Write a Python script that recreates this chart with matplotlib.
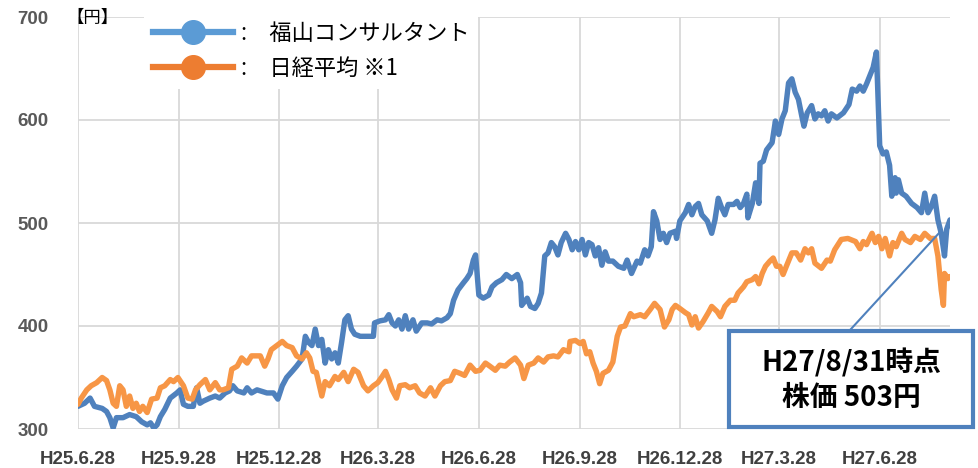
import matplotlib
matplotlib.use('Agg')
import matplotlib.pyplot as plt
from matplotlib.lines import Line2D
from matplotlib.patches import Rectangle
from matplotlib.font_manager import FontProperties
import pandas as pd

start_date = '2013-06-28'
end_date = '2015-08-31'

blue_days = [0, 6, 11, 15, 22, 26, 29, 32, 35, 41, 47, 53, 58, 63, 66, 69, 72, 75, 79, 84,
             90, 93, 96, 100, 105, 108, 111, 114, 120, 125, 129, 134, 138, 141, 145, 151, 154, 158, 163,
             166, 172, 178, 182, 186, 190, 195, 199, 204, 207, 210, 213, 216, 219, 222, 225, 228, 231, 234, 237,
             240, 243, 246, 249, 252, 257, 263, 269, 270, 275, 280, 283, 286, 289, 292, 295, 298, 301, 305, 308,
             313, 318, 322, 327, 331, 336,
             339, 342, 346, 351, 354, 357, 360, 362, 365, 369, 374, 377, 381, 386, 390, 395, 400, 403, 404, 409,
             412, 416, 419, 422, 425, 428, 431, 434, 437, 440, 444, 447, 450, 453, 456, 459, 462, 465, 468, 471,
             474, 477, 480, 483, 487, 492, 497, 500, 504, 509,
             512, 516, 519, 522, 524, 527, 530, 533, 536, 539, 544, 545, 548, 553, 556, 559, 562, 565, 568, 573,
             577, 580, 583, 586, 589, 592, 597, 600, 603, 606, 609, 610, 614, 617, 620, 621, 624, 627, 632, 635,
             638, 641, 644, 647, 650, 653, 656, 659, 661, 664, 668, 671, 674, 677, 680, 683,
             686, 691, 697, 702, 705, 709, 712, 715, 718, 721, 724, 727, 729, 730, 733, 736, 739, 741, 744, 745,
             747, 750, 754, 759, 764, 768, 771, 774, 777, 780, 783, 786, 789, 791, 794]
blue_vals = [322, 325, 330, 322, 320, 317, 311, 301, 311, 311, 314, 312, 307, 304, 306, 301, 304, 312, 319, 330,
             335, 338, 324, 322, 322, 340, 325, 327, 330, 332, 330, 335, 337, 342, 337, 335, 340, 335, 338,
             337, 335, 335, 329, 342, 350, 356, 361, 368, 390, 384, 381, 397, 381, 387, 364, 377, 368, 374, 364,
             384, 406, 410, 397, 392, 390, 390, 390, 403, 405, 406, 411, 403, 400, 406, 397, 410, 397, 406, 395,
             403, 403, 402, 406, 405, 408,
             412, 425, 435, 442, 446, 451, 464, 469, 430, 427, 430, 438, 442, 445, 450, 446, 450, 442, 420, 427,
             419, 417, 422, 432, 468, 471, 481, 477, 469, 481, 490, 484, 474, 482, 474, 484, 469, 481, 479, 468,
             476, 459, 472, 463, 463, 458, 456, 464, 451, 463,
             461, 474, 468, 477, 511, 502, 484, 490, 481, 490, 492, 485, 502, 510, 518, 508, 516, 519, 508, 502,
             490, 503, 524, 515, 508, 518, 518, 521, 515, 519, 528, 505, 519, 539, 519, 558, 560, 571, 578, 599,
             586, 601, 609, 636, 640, 627, 620, 604, 594, 607, 614, 601, 606, 604, 609, 599,
             606, 602, 607, 615, 630, 628, 633, 628, 635, 643, 651, 666, 604, 575, 567, 569, 556, 526, 544, 529,
             542, 529, 526, 519, 515, 510, 529, 510, 516, 526, 503, 490, 468, 494, 503]

orange_days = [0, 3, 8, 12, 17, 22, 26, 29, 32, 35, 38, 41, 44, 47, 50, 53, 56, 59, 63, 67,
               72, 75, 79, 84, 87, 91, 96, 100, 104, 107, 111, 116, 120, 125, 129, 132, 137, 140, 145, 149,
               154, 158,
               166, 170, 173, 176, 181, 186, 190, 195, 199, 204, 208, 211, 214, 217, 222, 225, 229, 234, 237, 242,
               246, 251, 255, 260, 264, 269, 273, 277, 280, 283, 286, 290, 293, 298, 302, 307, 311, 316, 321, 325,
               330, 334,
               339, 343, 348, 352, 357, 362, 366, 371, 375, 380, 384, 389, 393, 398, 403, 406, 410, 415, 419, 424,
               428, 433, 437, 442, 447, 448, 453, 457, 460, 463, 466, 469, 472, 475, 478, 483, 487, 491, 494, 498,
               503, 506, 509,
               512, 516, 521, 525, 530, 534, 538, 541, 544, 548, 553, 556, 559, 562, 565, 569, 574, 577, 582, 585,
               589, 594, 598, 601, 606, 609, 614, 617, 620, 623, 626, 630, 633, 636, 639, 642, 645, 650, 654, 658,
               662, 665, 668, 671, 677, 682,
               685, 689, 695, 701, 708, 712, 715, 718, 723, 726, 729, 732, 735, 739, 742, 745, 750, 753, 758, 762,
               767, 771, 776, 780, 783, 786, 788, 789, 792, 794]
orange_vals = [324, 330, 338, 342, 345, 350, 347, 338, 325, 322, 342, 338, 322, 332, 320, 325, 317, 322, 316, 329,
               330, 340, 342, 348, 346, 350, 342, 330, 329, 338, 343, 348, 338, 345, 338, 338, 340, 358, 361, 369,
               364, 371,
               371, 361, 368, 377, 381, 385, 381, 379, 371, 368, 374, 369, 356, 355, 332, 346, 342, 351, 348, 355,
               346, 358, 355, 342, 337, 342, 345, 351, 356, 348, 338, 330, 342, 343, 340, 342, 335, 332, 340, 332,
               342, 346,
               347, 356, 354, 352, 362, 356, 357, 364, 361, 357, 362, 361, 365, 369, 362, 349, 362, 364, 369, 365,
               370, 371, 370, 377, 375, 385, 386, 383, 385, 373, 375, 364, 356, 344, 354, 357, 365, 390, 399, 400,
               412, 409, 410,
               411, 409, 416, 422, 416, 399, 406, 416, 420, 417, 413, 411, 401, 409, 398, 404, 413, 419, 414, 409,
               419, 425, 425, 432, 438, 443, 445, 448, 441, 451, 458, 463, 466, 458, 458, 450, 458, 471, 471, 464,
               475, 471, 475, 461, 456, 464,
               463, 474, 484, 485, 482, 475, 482, 479, 490, 481, 487, 475, 485, 468, 481, 477, 490, 484, 481, 487,
               484, 490, 485, 485, 468, 435, 420, 451, 446, 448]

series_names = ['福山コンサルタント', '日経平均 ※1']
tick_dates = ['2013-06-28', '2013-09-28', '2013-12-28', '2014-03-28', '2014-06-28',
              '2014-09-28', '2014-12-28', '2015-03-28', '2015-06-28']
tick_labels = ['H25.6.28', 'H25.9.28', 'H25.12.28', 'H26.3.28', 'H26.6.28',
               'H26.9.28', 'H26.12.28', 'H27.3.28', 'H27.6.28']
y_ticks = [300, 400, 500, 600, 700]
unit_label = '【円】'
callout_lines = ['H27/8/31時点', '株価 503円']

line_blue = '#4F81BD'
line_orange = '#F79646'
leg_blue = '#5B9BD5'
leg_orange = '#ED7D31'

t0 = pd.Timestamp(start_date)
blue_x = t0 + pd.to_timedelta(blue_days, unit='D')
orange_x = t0 + pd.to_timedelta(orange_days, unit='D')

W, H = 979, 468
fig = plt.figure(figsize=(W / 100, H / 100), dpi=100)
ax = fig.add_axes([78 / W, 1 - 429 / H, (950 - 78) / W, (429 - 17) / H])

ax.plot(blue_x, blue_vals, color=line_blue, lw=3.9, solid_joinstyle='round', solid_capstyle='round', zorder=3)
ax.plot(orange_x, orange_vals, color=line_orange, lw=3.9, solid_joinstyle='round', solid_capstyle='round', zorder=4)

ax.set_xlim(pd.Timestamp(start_date), pd.Timestamp(end_date))
ax.set_ylim(300, 700)
ax.set_yticks(y_ticks)
ax.set_xticks(pd.to_datetime(tick_dates))
ax.set_xticklabels(tick_labels)
for s in ax.spines.values():
    s.set_visible(False)
ax.grid(True, color='#D9D9D9', lw=1.3, zorder=0)
ax.set_axisbelow(True)
ax.tick_params(axis='both', length=0)
ax.yaxis.set_tick_params(pad=21, labelsize=13.5, labelcolor='#595959')
ax.xaxis.set_tick_params(pad=16, labelsize=13.5, labelcolor='#404040')
for lab in ax.get_yticklabels() + ax.get_xticklabels():
    lab.set_fontfamily('Liberation Sans')
    lab.set_fontweight('bold')

cjk = ['Noto Sans CJK JP', 'DejaVu Sans']

fig.text(92 / W, 1 - 18 / H, unit_label, family=cjk, fontsize=12.5, ha='center', va='center', color='#000000')

handles = [Line2D([], [], color=leg_blue, lw=4.5, marker='o', markersize=17,
                  markerfacecolor=leg_blue, markeredgecolor=leg_blue),
           Line2D([], [], color=leg_orange, lw=4.5, marker='o', markersize=17,
                  markerfacecolor=leg_orange, markeredgecolor=leg_orange)]
labels = [':\u3000' + n for n in series_names]
leg = ax.legend(handles, labels, loc='upper left', bbox_to_anchor=(133 / W, 1 - 2 / H),
                bbox_transform=fig.transFigure, frameon=True, facecolor='white', edgecolor='none',
                framealpha=1, fancybox=False, handlelength=3.6, handletextpad=0.35,
                labelspacing=0.55, borderpad=0.4,
                prop=FontProperties(family=cjk, size=16))
leg.set_zorder(10)

# callout
fig.add_artist(Line2D([851 / W, 940 / W], [1 - 329 / H, 1 - 232 / H], color=line_blue, lw=1.5, zorder=20))
fig.add_artist(Rectangle((729 / W, 1 - 427 / H), (973 - 729) / W, (427 - 331) / H,
                         facecolor='white', edgecolor=line_blue, lw=3, zorder=21))
fig.text(851 / W, 1 - 363 / H, callout_lines[0], family=cjk, fontweight='bold', fontsize=20,
         ha='center', va='center', color='#000000', zorder=22)
fig.text(851 / W, 1 - 398 / H, callout_lines[1], family=cjk, fontweight='bold', fontsize=20,
         ha='center', va='center', color='#000000', zorder=22)

fig.savefig('out.png', dpi=100)
